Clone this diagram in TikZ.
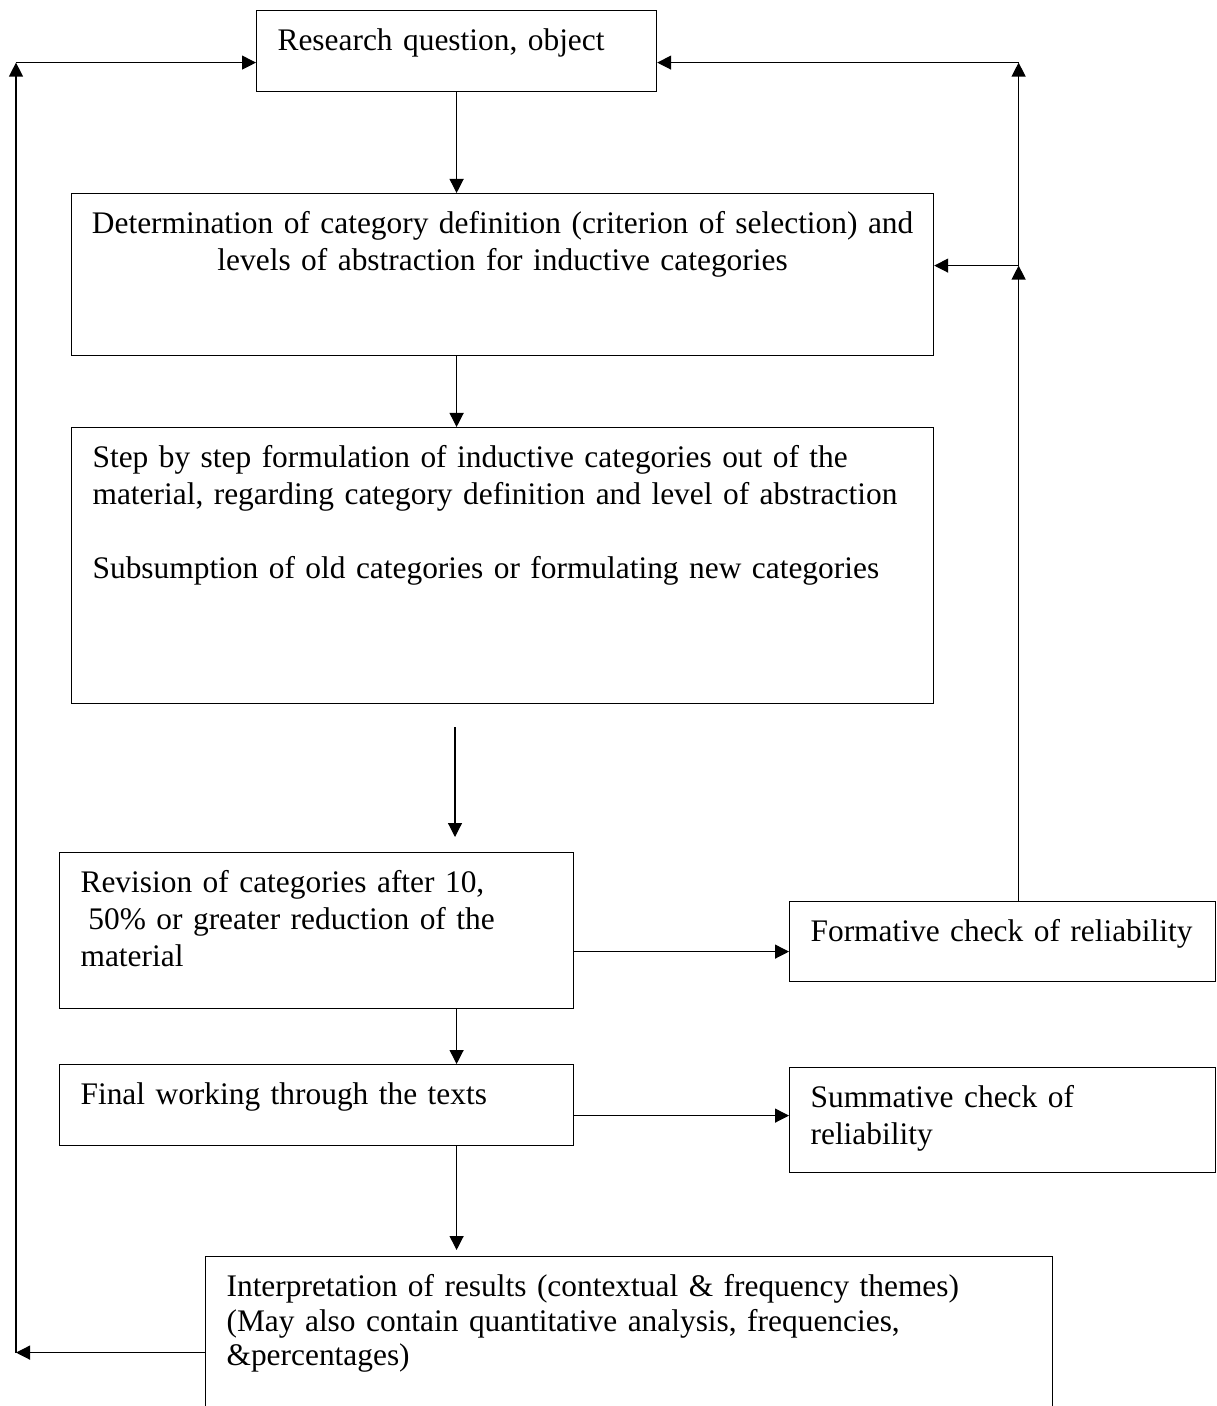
\documentclass[tikz,border=0pt]{standalone}
\usepackage{fontspec}
\setmainfont{Liberation Serif}
\usetikzlibrary{arrows.meta}
\hyphenpenalty=10000

\begin{document}
\begin{tikzpicture}[x=0.5pt, y=-0.5pt, line width=0.6pt,
  every node/.style={font=\fontsize{15.7}{18.5}\selectfont},
  box/.style={draw, anchor=north west, align=left, inner xsep=10.5pt, inner ysep=0pt, text height=20pt},
  arr/.style={-{Triangle[length=7pt,width=7pt]}}]
\useasboundingbox (0,0) rectangle (1216,1406);
\clip (0,0) rectangle (1216,1406);
\node[box,text width=179pt,text depth=20.5pt] (quest) at (256,10) {Research question, object};
\node[box,align=center,inner xsep=0pt,text width=431pt,text depth=61pt] (catdef) at (71,193) {Determination of category definition (criterion of selection) and\\ levels of abstraction for inductive categories};
\node[box,text width=410pt,text depth=118pt] (formul) at (71,427) {Step by step formulation of inductive categories out of the\\ material, regarding category definition and level of abstraction\\[18.5pt] Subsumption of old categories or formulating new categories};
\node[box,text width=236pt,text depth=58pt] (revis) at (59,852) {Revision of categories after 10,\\ \hspace*{0.25em}50\% or greater reduction of the\\ material};
\node[box,text width=192pt,text depth=20pt] (formchk) at (789,901) {\mbox{Formative check of reliability}};
\node[box,text width=236pt,text depth=20.5pt] (finalw) at (59,1064) {Final working through the texts};
\node[box,text width=192pt,text depth=32.5pt] (sumchk) at (789,1067) {Summative check of\\ reliability};
\node[box,font=\fontsize{15.7}{17.25}\selectfont,text width=402.5pt,text depth=80pt] (interp) at (205,1256) {Interpretation of results (contextual \& frequency themes)\\ (May also contain quantitative analysis, frequencies,\\ \&percentages)};
% main line
\coordinate (gapa) at (455,727);
\coordinate (gapb) at (455,837);
\draw[arr] (quest.south) -- (quest.south |- catdef.north);
\draw[arr] (quest.south |- catdef.south) -- (quest.south |- formul.north);
\draw[arr] (gapa) -- (gapb);
\draw[arr] (quest.south |- revis.south) -- (quest.south |- finalw.north);
\draw[arr,shorten >=3pt] (quest.south |- finalw.south) -- (quest.south |- interp.north);
% checks
\draw[arr] ([yshift=-10.5pt]revis.east) -- ([yshift=-10.5pt]revis.east -| formchk.west);
\draw[arr] ([yshift=-5.25pt]finalw.east) -- ([yshift=-5.25pt]finalw.east -| sumchk.west);
% feedback right
\coordinate (up) at ([xshift=8pt]formchk.north);
\coordinate (catin) at ([yshift=4.5pt]catdef.east);
\coordinate (qin) at ([yshift=-5.75pt]quest.east);
\draw[arr] (up) -- (up |- catin);
\draw[arr] (up |- catin) -- (catin);
\draw[arr] (up |- catin) -- (up |- qin);
\draw[arr] (up |- qin) -- (qin);
% feedback left
\coordinate (lft) at (16,0);
\coordinate (hout) at ([yshift=2pt]interp.west);
\coordinate (qleft) at ([yshift=-5.75pt]quest.west);
\draw[arr] (hout) -- (hout -| lft);
\draw[arr] (hout -| lft) -- (lft |- qleft);
\draw[arr] (lft |- qleft) -- (qleft);
\end{tikzpicture}
\end{document}
